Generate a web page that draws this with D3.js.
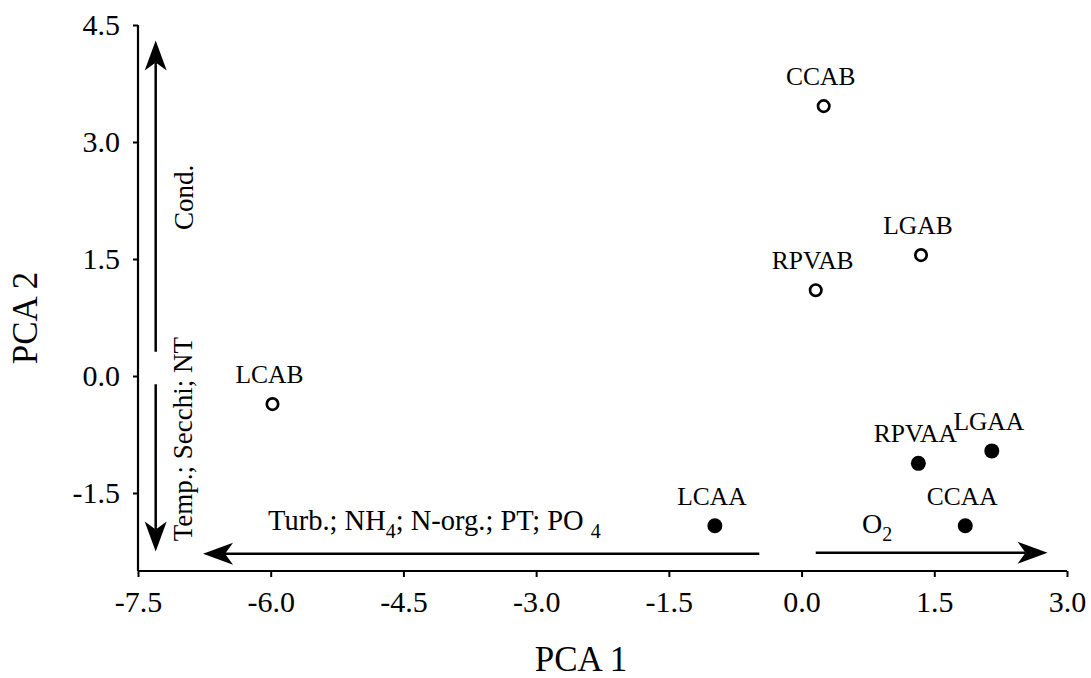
<!DOCTYPE html>
<html>
<head>
<meta charset="utf-8">
<script src="https://cdn.jsdelivr.net/npm/d3@7"></script>
<style>
  html, body { margin: 0; padding: 0; background: #fff; }
  svg { display: block; font-family: "Liberation Serif", "Times New Roman", serif; }
</style>
</head>
<body>
<svg id="chart" width="1091" height="678"></svg>
<script>
// ---- data ----
const siteNames = ["CCAB", "LGAB", "RPVAB", "LCAB", "RPVAA", "LGAA", "CCAA", "LCAA"];
const pca1 = [0.25, 1.35, 0.16, -5.98, 1.32, 2.15, 1.85, -0.98];
const pca2 = [3.46, 1.55, 1.10, -0.36, -1.12, -0.96, -1.92, -1.92];
const filled = [false, false, false, false, true, true, true, true];

const xTicks = [-7.5, -6.0, -4.5, -3.0, -1.5, 0.0, 1.5, 3.0];
const yTicks = [-1.5, 0.0, 1.5, 3.0, 4.5];
const xDomain = [-7.5, 3.0];
const yDomain = [-2.5, 4.5];

// vector arrows (data coordinates): [x1, y1] -> [x2, y2], head at the second point
const arrowFrom = [[-7.30, 0.31], [-7.30, -0.106], [-0.478, -2.28], [0.16, -2.265]];
const arrowTo   = [[-7.30, 4.30], [-7.30, -2.25], [-6.765, -2.28], [2.78, -2.265]];

// ---- chart ----
const svg = d3.select("#chart");
const x = d3.scaleLinear().domain(xDomain).range([138, 1067]);
const y = d3.scaleLinear().domain(yDomain).range([571, 25]);
const fmt = v => d3.format(".1f")(v).replace("\u2212", "-");

const xAxis = svg.append("g").attr("transform", `translate(0,${y(yDomain[0])})`)
  .call(d3.axisBottom(x).tickValues(xTicks).tickFormat(fmt).tickSize(6).tickPadding(14).tickSizeOuter(0));
const yAxis = svg.append("g").attr("transform", `translate(${x(xDomain[0])},0)`)
  .call(d3.axisLeft(y).tickValues(yTicks).tickFormat(fmt).tickSize(5).tickPadding(13).tickSizeOuter(0));
[xAxis, yAxis].forEach(a => {
  a.select(".domain").attr("stroke", "#000").attr("stroke-width", 2.2);
  a.selectAll(".tick line").attr("stroke", "#000").attr("stroke-width", 2);
  a.selectAll(".tick text").attr("fill", "#000").attr("font-size", 30)
    .attr("font-family", "Liberation Serif, Times New Roman, serif");
});
xAxis.select(".domain").attr("d", `M${x(xDomain[0])},0H${x(xDomain[1])}`);
yAxis.select(".domain").attr("d", `M0,${y(yDomain[0])}V${y(yDomain[1])}`);

// axis titles
svg.append("text").attr("x", 581).attr("y", 671).attr("text-anchor", "middle")
  .attr("font-size", 35).text("PCA 1");
svg.append("text").attr("transform", "translate(37,318) rotate(-90)").attr("text-anchor", "middle")
  .attr("font-size", 35).text("PCA 2");

// arrows
const arrowG = svg.append("g");
arrowFrom.forEach((f, i) => {
  const t = arrowTo[i];
  const x1 = x(f[0]), y1 = y(f[1]), x2 = x(t[0]), y2 = y(t[1]);
  const ang = Math.atan2(y2 - y1, x2 - x1);
  const L = 30, W = 11, N = 22;
  const ux = Math.cos(ang), uy = Math.sin(ang), px = -uy, py = ux;
  arrowG.append("line").attr("x1", x1).attr("y1", y1)
    .attr("x2", x2 - ux * N).attr("y2", y2 - uy * N)
    .attr("stroke", "#000").attr("stroke-width", 2.5);
  const pts = [
    [x2, y2],
    [x2 - ux * L + px * W, y2 - uy * L + py * W],
    [x2 - ux * N, y2 - uy * N],
    [x2 - ux * L - px * W, y2 - uy * L - py * W]
  ];
  arrowG.append("path").attr("d", "M" + pts.map(p => p.join(",")).join("L") + "Z").attr("fill", "#000");
});

// arrow annotations
const annG = svg.append("g").attr("font-size", 27).attr("fill", "#000");
annG.append("text").attr("transform", `translate(${x(-7.5) + 55},${y(2.29)}) rotate(-90)`)
  .attr("text-anchor", "middle").text("Cond.");
annG.append("text").attr("transform", `translate(${x(-7.5) + 54},${y(-0.81)}) rotate(-90)`)
  .attr("text-anchor", "middle").text("Temp.; Secchi; NT");
const t1 = annG.append("text").attr("x", 268).attr("y", 530).attr("font-size", 28.5);
t1.append("tspan").text("Turb.; NH");
t1.append("tspan").attr("font-size", 20).attr("dy", 8).text("4");
t1.append("tspan").attr("dy", -8).text("; N-org.; PT; PO ");
t1.append("tspan").attr("font-size", 20).attr("dy", 8).text("4");
const t2 = annG.append("text").attr("x", 862).attr("y", 533).attr("font-size", 28);
t2.append("tspan").text("O");
t2.append("tspan").attr("font-size", 20).attr("dy", 8).text("2");

// points
const pts = siteNames.map((n, i) => ({ name: n, px: pca1[i], py: pca2[i], filled: filled[i] }));
const pg = svg.append("g");
pg.selectAll("circle").data(pts).join("circle")
  .attr("cx", d => x(d.px)).attr("cy", d => y(d.py))
  .attr("r", d => d.filled ? 7.5 : 5.7)
  .attr("fill", d => d.filled ? "#000" : "#fff")
  .attr("stroke", "#000").attr("stroke-width", d => d.filled ? 0 : 2.7);
pg.selectAll("text").data(pts).join("text")
  .attr("x", d => x(d.px) - 3).attr("y", d => y(d.py) - 21)
  .attr("text-anchor", "middle").attr("font-size", 25.5).attr("fill", "#000")
  .text(d => d.name);
</script>
</body>
</html>
